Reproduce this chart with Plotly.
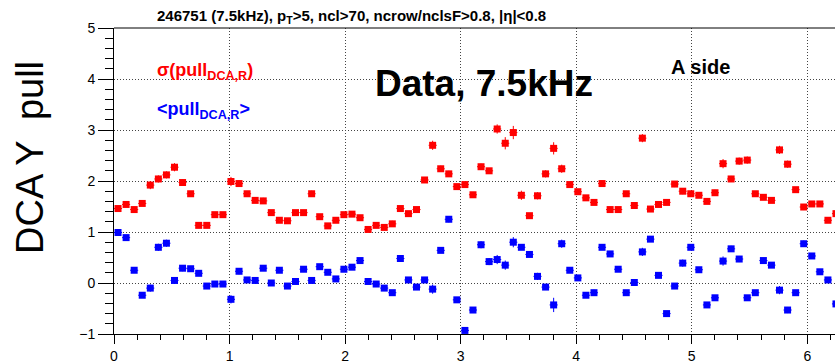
import numpy as np
import plotly.graph_objects as go

# phi binning: 90 bins over [0, 2pi]
n_bins = 90
phi_edges = np.linspace(0, 2 * np.pi, n_bins + 1)
phi = 0.5 * (phi_edges[:-1] + phi_edges[1:])
phi_halfwidth = 0.5 * (phi_edges[1:] - phi_edges[:-1])

# sigma of DCA pull per phi bin
sigma_pull = [
    1.46, 1.54, 1.44, 1.56, 1.92, 2.04, 2.12, 2.27, 1.97, 1.75, 1.13, 1.13, 1.34, 1.34, 1.99, 1.95, 1.75, 1.62,
    1.61, 1.38, 1.23, 1.22, 1.38, 1.38, 1.75, 1.30, 1.12, 1.23, 1.34, 1.35, 1.28, 1.05, 1.13, 1.09, 1.16, 1.46,
    1.36, 1.44, 2.02, 2.70, 2.24, 2.14, 1.89, 1.93, 1.73, 2.28, 2.20, 3.02, 2.74, 2.95, 1.72, 1.32, 1.71, 2.14,
    2.64, 2.24, 1.93, 1.79, 1.67, 1.58, 1.95, 1.44, 1.44, 1.75, 1.52, 2.84, 1.45, 1.54, 1.58, 1.94, 1.80, 1.75,
    1.72, 1.60, 1.77, 2.34, 2.04, 2.39, 2.41, 1.75, 1.68, 1.62, 2.61, 2.33, 1.83, 1.49, 1.55, 1.55, 1.23, 1.36,
]
sigma_err = [
    0.04, 0.04, 0.04, 0.04, 0.08, 0.07, 0.07, 0.08, 0.06, 0.05, 0.04, 0.04, 0.04, 0.04, 0.09, 0.06, 0.05, 0.05,
    0.06, 0.05, 0.04, 0.04, 0.04, 0.04, 0.06, 0.05, 0.04, 0.04, 0.05, 0.05, 0.05, 0.05, 0.05, 0.05, 0.06, 0.05,
    0.05, 0.05, 0.05, 0.09, 0.06, 0.06, 0.05, 0.05, 0.05, 0.06, 0.05, 0.09, 0.12, 0.13, 0.09, 0.04, 0.07, 0.07,
    0.12, 0.08, 0.05, 0.05, 0.05, 0.05, 0.06, 0.04, 0.04, 0.05, 0.06, 0.08, 0.05, 0.04, 0.05, 0.06, 0.06, 0.05,
    0.04, 0.05, 0.06, 0.09, 0.06, 0.07, 0.07, 0.05, 0.05, 0.04, 0.08, 0.07, 0.05, 0.06, 0.04, 0.04, 0.04, 0.05,
]

# mean DCA pull per phi bin
mean_pull = [
    0.99, 0.89, 0.25, -0.24, -0.10, 0.70, 0.78, 0.05, 0.29, 0.28, 0.19, -0.06, -0.02, -0.02, -0.32, 0.23, 0.06, 0.05,
    0.29, 0.00, 0.25, -0.06, 0.03, 0.27, 0.05, 0.32, 0.21, 0.08, 0.27, 0.31, 0.44, 0.03, -0.02, -0.10, -0.19, 0.48,
    0.06, -0.08, 0.06, -0.12, 0.64, 1.25, -0.33, -0.93, -0.53, 0.75, 0.42, 0.46, 0.35, 0.80, 0.70, 0.56, 0.13, -0.08,
    -0.43, 0.77, 0.25, 0.10, -0.24, -0.19, 0.70, 0.57, 0.27, -0.19, 0.01, 0.61, 0.86, 0.15, -0.60, -0.06, 0.39, 0.70,
    0.26, -0.43, -0.29, 0.43, 0.67, 0.47, -0.29, -0.19, 0.44, 0.35, -0.14, -0.53, -0.19, 0.77, 0.53, 0.22, 0.06, -0.41,
]
mean_err = [
    0.05, 0.05, 0.05, 0.05, 0.07, 0.07, 0.07, 0.06, 0.06, 0.05, 0.05, 0.05, 0.05, 0.05, 0.08, 0.06, 0.05, 0.05,
    0.05, 0.05, 0.05, 0.05, 0.05, 0.05, 0.05, 0.05, 0.05, 0.05, 0.05, 0.05, 0.05, 0.05, 0.05, 0.05, 0.05, 0.05,
    0.05, 0.05, 0.05, 0.09, 0.05, 0.06, 0.05, 0.05, 0.05, 0.07, 0.07, 0.09, 0.09, 0.10, 0.05, 0.05, 0.07, 0.05,
    0.14, 0.08, 0.05, 0.05, 0.05, 0.06, 0.05, 0.05, 0.05, 0.05, 0.05, 0.08, 0.05, 0.05, 0.05, 0.05, 0.07, 0.05,
    0.05, 0.05, 0.05, 0.09, 0.06, 0.06, 0.05, 0.05, 0.05, 0.05, 0.08, 0.06, 0.05, 0.06, 0.05, 0.05, 0.05, 0.05,
]

RED = "rgb(255,0,0)"
BLUE = "rgb(0,0,255)"
FONT = "Liberation Sans"

W, H = 835, 364
ML, MT, MB, MR = 114, 28, 25, 0
PW, PH = W - ML - MR, H - MT - MB


def px(x):
    return (x - ML) / PW


def py(y):
    return (H - MB - y) / PH


fig = go.Figure()

for yv, ev, col in [(sigma_pull, sigma_err, RED), (mean_pull, mean_err, BLUE)]:
    fig.add_trace(go.Scatter(
        x=phi, y=yv, mode="markers",
        marker=dict(symbol="square", size=7, color=col, line=dict(width=0)),
        error_x=dict(type="data", array=phi_halfwidth, color=col, thickness=1, width=0),
        error_y=dict(type="data", array=ev, color=col, thickness=1, width=0),
        showlegend=False,
    ))

grid = dict(showgrid=True, gridcolor="#444", gridwidth=1, griddash="1px,2px")
fig.update_xaxes(
    range=[0, (W - ML) / 115.55], dtick=1, tick0=0, zeroline=False,
    showline=True, linecolor="black", linewidth=1,
    ticks="outside", ticklen=9, tickcolor="black",
    minor=dict(dtick=0.2, ticks="outside", ticklen=5, tickcolor="black", showgrid=False),
    tickfont=dict(family=FONT, size=14, color="black"),
    **grid,
)
fig.update_yaxes(
    range=[-1, 5], dtick=1, tick0=0, zeroline=False,
    showline=True, linecolor="black", linewidth=1,
    ticks="outside", ticklen=15, tickcolor="black",
    minor=dict(dtick=0.2, ticks="outside", ticklen=8, tickcolor="black", showgrid=False),
    tickfont=dict(family=FONT, size=14, color="black"),
    **grid,
)

# top frame line
fig.add_shape(type="line", xref="paper", yref="paper", x0=0, x1=1, y0=1, y1=1,
              line=dict(color="black", width=1))

annotations = [
    dict(text="<b>246751 (7.5kHz), p<sub>T</sub>>5, ncl>70, ncrow/nclsF>0.8, |η|<0.8</b>",
         x=px(155), y=py(16), xanchor="left", yanchor="middle",
         font=dict(family=FONT, size=15, color="black")),
    dict(text="DCA Y  pull", textangle=-90,
         x=px(30), y=py(160), xanchor="center", yanchor="middle",
         font=dict(family=FONT, size=38, color="black")),
    dict(text="<b>Data, 7.5kHz</b>",
         x=px(373), y=py(84), xanchor="left", yanchor="middle",
         font=dict(family=FONT, size=37, color="black")),
    dict(text="<b>A side</b>",
         x=px(669), y=py(68), xanchor="left", yanchor="middle",
         font=dict(family=FONT, size=20, color="black")),
    dict(text="<b>σ(pull<sub>DCA,R</sub>)</b>",
         x=px(155), y=py(72), xanchor="left", yanchor="middle",
         font=dict(family=FONT, size=18, color=RED)),
    dict(text="<b><pull<sub>DCA,R</sub>></b>",
         x=px(155), y=py(112), xanchor="left", yanchor="middle",
         font=dict(family=FONT, size=18, color=BLUE)),
]
for a in annotations:
    fig.add_annotation(xref="paper", yref="paper", showarrow=False, **a)

fig.update_layout(
    width=W, height=H,
    margin=dict(l=ML, r=MR, t=MT, b=MB, pad=0),
    paper_bgcolor="white", plot_bgcolor="white",
    font=dict(family=FONT),
)

fig.write_html("out.html")
